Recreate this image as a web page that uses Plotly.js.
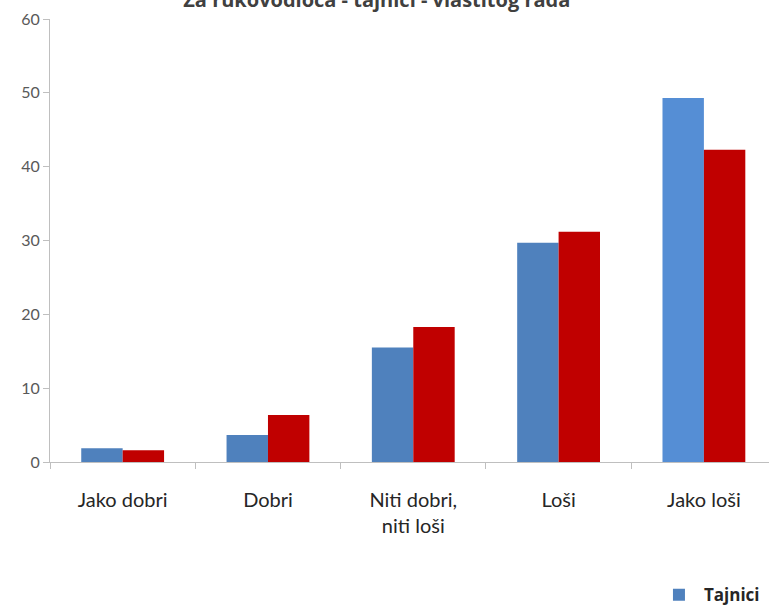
<!DOCTYPE html>
<html>
<head>
<meta charset="utf-8">
<script src="https://cdn.plot.ly/plotly-3.0.1.min.js"></script>
<style>html,body{margin:0;padding:0;background:#fff;overflow:hidden}</style>
</head>
<body>
<div id="chart" style="width:769px;height:616px"></div>
<script>
const categories = ["Jako dobri", "Dobri", "Niti dobri,<br>niti loši", "Loši", "Jako loši"];
const seriesNames = ["Tajnici", "Tajnice"];
const tajnici = [1.85, 3.65, 15.5, 29.7, 49.3];
const tajnice = [1.6, 6.35, 18.3, 31.2, 42.3];
const blueColors = ["#4F81BD", "#4F81BD", "#4F81BD", "#4F81BD", "#558ED5"];
const redColor = "#C00000";
const titleText = "Za rukovodioca - tajnici - vlastitog rada";

const data = [
  {type: "bar", name: seriesNames[0], x: categories, y: tajnici, marker: {color: blueColors}, hoverinfo: "none"},
  {type: "bar", name: seriesNames[1], x: categories, y: tajnice, marker: {color: redColor}, hoverinfo: "none", showlegend: false}
];

const layout = {
  width: 769, height: 616,
  paper_bgcolor: "#fff", plot_bgcolor: "#fff",
  margin: {l: 50, r: 0, t: 19, b: 154, autoexpand: false},
  barmode: "group", bargap: 0.43, bargroupgap: 0,
  title: {text: "<b>" + titleText + "</b>", x: 0.49, xanchor: "center", yref: "container", y: 1.0, yanchor: "middle",
          font: {family: "Open Sans, sans-serif", size: 20, color: "#404040"}},
  xaxis: {
    type: "category", range: [-0.5, 4.448], automargin: false,
    showline: true, linecolor: "#BFBFBF", linewidth: 1,
    ticks: "outside", ticklen: 6, tickcolor: "#BFBFBF", tickson: "boundaries",
    ticklabelstandoff: 20,
    tickfont: {family: "Lato, Open Sans, sans-serif", size: 20, color: "#262626"},
    showgrid: false, zeroline: false, fixedrange: true
  },
  yaxis: {
    range: [0, 60], dtick: 10, automargin: false,
    showline: true, linecolor: "#BFBFBF", linewidth: 1,
    ticks: "outside", ticklen: 6, tickcolor: "#BFBFBF",
    tickfont: {family: "Lato, Open Sans, sans-serif", size: 16, color: "#595959"},
    showgrid: false, zeroline: false, fixedrange: true
  },
  showlegend: true,
  legend: {orientation: "h", x: 0.84, xanchor: "left", y: -0.26, yanchor: "top",
           font: {family: "Open Sans, sans-serif", size: 17, color: "#262626", weight: "bold"},
           itemsizing: "constant", itemwidth: 40, traceorder: "normal"}
};

Plotly.newPlot("chart", data, layout, {displayModeBar: false, staticPlot: true});
</script>
</body>
</html>
